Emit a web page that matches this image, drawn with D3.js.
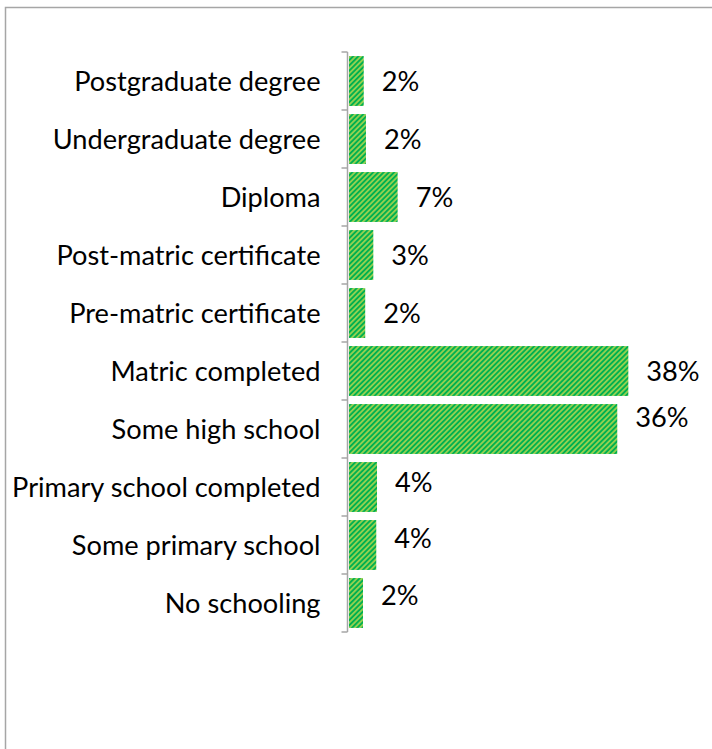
<!DOCTYPE html>
<html>
<head>
<meta charset="utf-8">
<script src="https://cdn.jsdelivr.net/npm/d3@7"></script>
<style>
  html, body { margin: 0; padding: 0; background: #ffffff; }
  svg { display: block; }
  text { font-family: Lato, "Open Sans", sans-serif; fill: #000; }
</style>
</head>
<body>
<svg id="chart" width="712" height="749"></svg>
<script>
// Highest level of education, share of respondents (%)
const categories = [
  "Postgraduate degree",
  "Undergraduate degree",
  "Diploma",
  "Post-matric certificate",
  "Pre-matric certificate",
  "Matric completed",
  "Some high school",
  "Primary school completed",
  "Some primary school",
  "No schooling"
];
const shares = [2.0, 2.3, 6.6, 3.3, 2.2, 37.9, 36.4, 3.8, 3.7, 1.9];

const rows = categories.map((c, i) => ({ category: c, value: shares[i] }));

const width = 712, height = 749;
const svg = d3.select("#chart");

// outer chart frame (right and bottom edges run off the page)
svg.append("rect")
  .attr("x", 5.5).attr("y", 7.5)
  .attr("width", 760).attr("height", 800)
  .attr("fill", "#ffffff")
  .attr("stroke", "#a6a6a6")
  .attr("stroke-width", 1.5);

// diagonal two-tone green fill for the bars
const tile = 3.7;
const defs = svg.append("defs");
const pat = defs.append("pattern")
  .attr("id", "stripes")
  .attr("patternUnits", "userSpaceOnUse")
  .attr("width", tile).attr("height", tile)
  .attr("patternTransform", "rotate(45)");
pat.append("rect").attr("width", tile).attr("height", tile).attr("fill", "#92d050");
pat.append("rect").attr("width", tile / 2).attr("height", tile).attr("fill", "#00b050");

const axisX = 347.5;
const labelSize = "27.2px";
const y = d3.scaleBand()
  .domain(categories)
  .range([52, 632])
  .paddingInner(0.14)
  .paddingOuter(0.07);

const x = d3.scaleLinear()
  .domain([0, 40])
  .range([349, 349 + 40 * 7.37]);

// category axis: line plus ticks on the band boundaries
const step = y.step();
const boundaries = categories.map(c => y(c) - step * y.paddingInner() / 2);
boundaries.push(boundaries[boundaries.length - 1] + step);

const axis = svg.append("g").attr("class", "y-axis");
axis.append("line")
  .attr("x1", axisX).attr("x2", axisX)
  .attr("y1", boundaries[0]).attr("y2", boundaries[boundaries.length - 1])
  .attr("stroke", "#a6a6a6").attr("stroke-width", 1.5);
axis.selectAll("line.tick")
  .data(boundaries)
  .join("line")
  .attr("class", "tick")
  .attr("x1", axisX - 6).attr("x2", axisX)
  .attr("y1", d => d).attr("y2", d => d)
  .attr("stroke", "#a6a6a6").attr("stroke-width", 1.5);

axis.selectAll("text")
  .data(categories)
  .join("text")
  .attr("x", 320.5)
  .attr("y", d => y(d) + y.bandwidth() / 2)
  .attr("dy", "0.36em")
  .attr("text-anchor", "end")
  .style("font-size", labelSize)
  .text(d => d);

// bars
svg.append("g").selectAll("rect")
  .data(rows)
  .join("rect")
  .attr("x", x(0))
  .attr("y", d => y(d.category))
  .attr("width", d => x(d.value) - x(0))
  .attr("height", y.bandwidth())
  .attr("fill", "url(#stripes)");

// value labels; a few sit slightly above their bar's centre
const labelNudge = {
  "Some high school": -12,
  "Primary school completed": -5,
  "Some primary school": -7,
  "No schooling": -8
};
const fmt = v => Math.round(v) + "%";
svg.append("g").selectAll("text")
  .data(rows)
  .join("text")
  .attr("x", d => x(d.value) + 18)
  .attr("y", d => y(d.category) + y.bandwidth() / 2 + (labelNudge[d.category] || 0))
  .attr("dy", "0.36em")
  .style("font-size", labelSize)
  .text(d => fmt(d.value));
</script>
</body>
</html>
